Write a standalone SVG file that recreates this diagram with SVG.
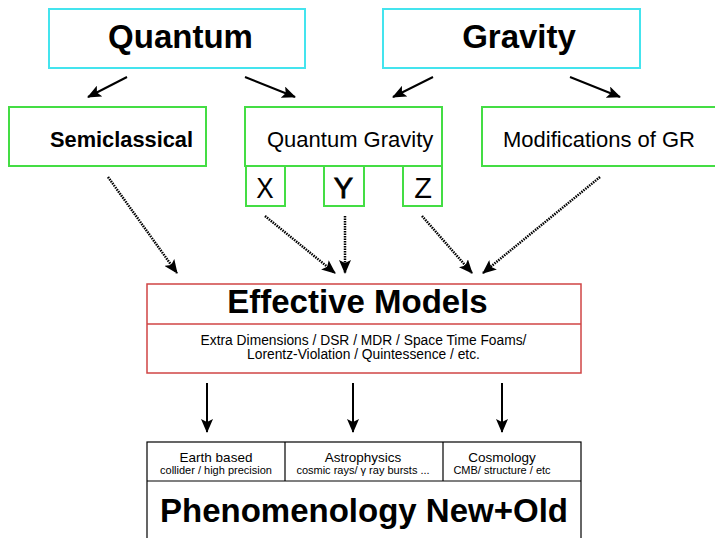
<svg xmlns="http://www.w3.org/2000/svg" width="715" height="538" viewBox="0 0 715 538">
<style>
.bg{fill:#ffffff}
.top{fill:#ffffff;stroke:#44e4ee;stroke-width:2}
.mid{fill:#ffffff;stroke:#44dd44;stroke-width:2}
.eff{fill:#ffffff;stroke:#d04444;stroke-width:1.5}
.ph{fill:#ffffff;stroke:#000000;stroke-width:1.2}
text{font-family:"Liberation Sans",Arial,sans-serif;fill:#000}
.b{font-weight:bold}
.solid{stroke:#000;stroke-width:2;fill:none}
.dot{stroke:#000;stroke-width:2.5;fill:none;stroke-dasharray:1.5 1}
</style>
<defs>
<marker id="ah" viewBox="0 0 14 12" refX="13" refY="6" markerWidth="14" markerHeight="12" markerUnits="userSpaceOnUse" orient="auto">
<path d="M0,0 L14,6 L0,12 L3,6 Z" fill="#000"/>
</marker>
</defs>
<rect class="bg" x="0" y="0" width="715" height="538"/>

<g id="quantum">
<rect class="top" x="49" y="9" width="256" height="59"/>
<text class="b" x="180.5" y="48" font-size="33" text-anchor="middle">Quantum</text>
</g>
<g id="gravity">
<rect class="top" x="383" y="9" width="257" height="59"/>
<text class="b" x="519" y="48" font-size="33" text-anchor="middle">Gravity</text>
</g>
<g id="semiclassical">
<rect class="mid" x="9" y="107" width="197" height="59"/>
<text class="b" x="50" y="147" font-size="21.8">Semiclassical</text>
</g>
<g id="quantumgravity">
<rect class="mid" x="245" y="107" width="197" height="59"/>
<text x="267" y="147" font-size="22">Quantum Gravity</text>
</g>
<g id="x">
<rect class="mid" x="246" y="166" width="39" height="40"/>
<text x="265" y="198" font-size="29" text-anchor="middle" transform="translate(265,0) scale(0.9,1) translate(-265,0)">X</text>
</g>
<g id="y">
<rect class="mid" x="324" y="166" width="40" height="40"/>
<text x="343.5" y="198" font-size="29" text-anchor="middle" stroke="#000" stroke-width="0.8">Y</text>
</g>
<g id="z">
<rect class="mid" x="403" y="166" width="39" height="40"/>
<text x="423" y="198" font-size="29" text-anchor="middle">Z</text>
</g>
<g id="modgr">
<rect class="mid" x="482" y="107" width="240" height="59"/>
<text x="503" y="147" font-size="22">Modifications of GR</text>
</g>

<g id="effective">
<rect class="eff" x="147" y="284" width="434" height="89"/>
<line x1="147" y1="324" x2="581" y2="324" stroke="#d04444" stroke-width="1.5"/>
<text class="b" x="357.5" y="313" font-size="33" text-anchor="middle">Effective Models</text>
<text x="363.5" y="345" font-size="13.8" text-anchor="middle">Extra Dimensions / DSR / MDR / Space Time Foams/</text>
<text x="363.5" y="359" font-size="13.8" text-anchor="middle">Lorentz-Violation / Quintessence / etc.</text>
</g>

<g id="phenomenology">
<rect class="ph" x="147" y="442" width="434" height="110"/>
<line x1="147" y1="481" x2="581" y2="481" stroke="#000" stroke-width="1.2"/>
<line x1="285" y1="442" x2="285" y2="481" stroke="#000" stroke-width="1.2"/>
<line x1="443" y1="442" x2="443" y2="481" stroke="#000" stroke-width="1.2"/>
<text x="216" y="462" font-size="13.5" text-anchor="middle">Earth based</text>
<text x="216" y="473.5" font-size="11" text-anchor="middle">collider / high precision</text>
<text x="363" y="462" font-size="13.5" text-anchor="middle">Astrophysics</text>
<text x="363" y="473.5" font-size="11" text-anchor="middle">cosmic rays/ γ ray bursts ...</text>
<text x="502" y="462" font-size="13.5" text-anchor="middle">Cosmology</text>
<text x="502" y="473.5" font-size="11" text-anchor="middle">CMB/ structure / etc</text>
<text class="b" x="364" y="522" font-size="33" text-anchor="middle">Phenomenology New+Old</text>
</g>

<g id="connectors">
<line class="solid" x1="127" y1="77" x2="88" y2="97" marker-end="url(#ah)"/>
<line class="solid" x1="245" y1="77" x2="295" y2="97" marker-end="url(#ah)"/>
<line class="solid" x1="433" y1="77" x2="393" y2="97" marker-end="url(#ah)"/>
<line class="solid" x1="570" y1="77" x2="620" y2="97" marker-end="url(#ah)"/>
<line class="dot" x1="108" y1="177" x2="177" y2="273" marker-end="url(#ah)"/>
<line class="dot" x1="265" y1="216" x2="335" y2="273" marker-end="url(#ah)"/>
<line class="dot" x1="345" y1="216" x2="345" y2="273" marker-end="url(#ah)"/>
<line class="dot" x1="422" y1="216" x2="472" y2="273" marker-end="url(#ah)"/>
<line class="dot" x1="600" y1="177" x2="483" y2="273" marker-end="url(#ah)"/>
<line class="solid" x1="207" y1="383" x2="207" y2="432" marker-end="url(#ah)"/>
<line class="solid" x1="353" y1="383" x2="353" y2="432" marker-end="url(#ah)"/>
<line class="solid" x1="502" y1="383" x2="502" y2="432" marker-end="url(#ah)"/>
</g>
</svg>
